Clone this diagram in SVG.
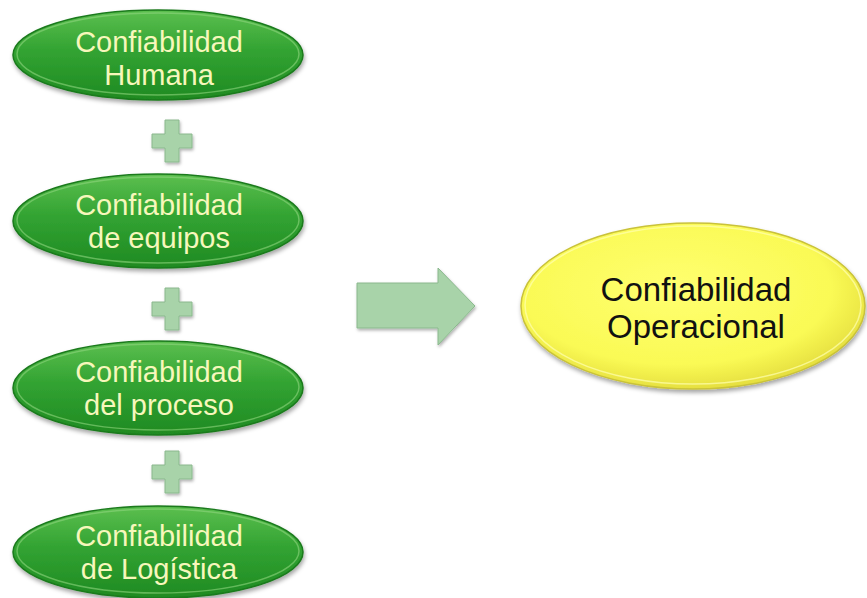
<svg xmlns="http://www.w3.org/2000/svg" width="867" height="598" viewBox="0 0 867 598">
  <defs>
    <linearGradient id="greenFill" x1="0" y1="0" x2="0" y2="1">
      <stop offset="0" stop-color="#5cbf4f"/>
      <stop offset="0.45" stop-color="#32a332"/>
      <stop offset="1" stop-color="#1f8a22"/>
    </linearGradient>
    <radialGradient id="yellowFill" cx="0.45" cy="0.4" r="0.6">
      <stop offset="0" stop-color="#ffff70"/>
      <stop offset="0.75" stop-color="#fafa55"/>
      <stop offset="1" stop-color="#e6e040"/>
    </radialGradient>
    <filter id="shadow" x="-10%" y="-10%" width="120%" height="130%">
      <feDropShadow dx="1" dy="3" stdDeviation="2" flood-color="#000" flood-opacity="0.35"/>
    </filter>
    <filter id="softShadow" x="-10%" y="-10%" width="130%" height="130%">
      <feDropShadow dx="1" dy="2" stdDeviation="1.5" flood-color="#000" flood-opacity="0.3"/>
    </filter>
    <!-- plus sign centred on the origin -->
    <path id="plus" d="M-7,-21 H7 V-7 H20 V7 H7 V21 H-7 V7 H-20 V-7 H-7 Z"/>
  </defs>
  <style>
    .green { fill: url(#greenFill); stroke: #1a7a1c; stroke-width: 1.5; filter: url(#shadow); }
    .rim { fill: none; stroke: #8fd67f; stroke-width: 1.5; opacity: 0.6; }
    .gtext { font-family: "Liberation Sans", Arial, sans-serif; font-size: 29px; fill: #f7f7bb; text-anchor: middle; }
    .ytext { font-family: "Liberation Sans", Arial, sans-serif; font-size: 33px; fill: #111; text-anchor: middle; }
    .conn { fill: #a8d3a9; stroke: #8ab88d; stroke-width: 1; filter: url(#softShadow); }
  </style>
  <rect width="867" height="598" fill="#ffffff"/>

  <g id="connectors">
    <use href="#plus" class="conn" x="172" y="141"/>
    <use href="#plus" class="conn" x="172" y="309"/>
    <use href="#plus" class="conn" x="172" y="472"/>
    <path class="conn" d="M357,283 H438 V268 L475,306 L438,345 V328 H357 Z"/>
  </g>

  <g id="node-humana">
    <ellipse class="green" cx="158" cy="55" rx="145" ry="45"/>
    <ellipse class="rim" cx="158" cy="54" rx="141" ry="41"/>
    <text class="gtext" x="159" y="52">Confiabilidad</text>
    <text class="gtext" x="159" y="85">Humana</text>
  </g>

  <g id="node-equipos">
    <ellipse class="green" cx="158" cy="221" rx="145" ry="47"/>
    <ellipse class="rim" cx="158" cy="220" rx="141" ry="43"/>
    <text class="gtext" x="159" y="215">Confiabilidad</text>
    <text class="gtext" x="159" y="248">de equipos</text>
  </g>

  <g id="node-proceso">
    <ellipse class="green" cx="158" cy="388" rx="145" ry="47"/>
    <ellipse class="rim" cx="158" cy="387" rx="141" ry="43"/>
    <text class="gtext" x="159" y="382">Confiabilidad</text>
    <text class="gtext" x="159" y="415">del proceso</text>
  </g>

  <g id="node-logistica">
    <ellipse class="green" cx="158" cy="552" rx="145" ry="46"/>
    <ellipse class="rim" cx="158" cy="551" rx="141" ry="42"/>
    <text class="gtext" x="159" y="546">Confiabilidad</text>
    <text class="gtext" x="159" y="579">de Logística</text>
  </g>

  <g id="node-operacional">
    <ellipse cx="693" cy="306" rx="172" ry="83" fill="url(#yellowFill)" stroke="#c9c23a" stroke-width="1.5" filter="url(#shadow)"/>
    <ellipse cx="693" cy="305" rx="168" ry="79" fill="none" stroke="#ffffb0" stroke-width="1.5" opacity="0.7"/>
    <text class="ytext" x="696" y="301">Confiabilidad</text>
    <text class="ytext" x="696" y="338">Operacional</text>
  </g>
</svg>
